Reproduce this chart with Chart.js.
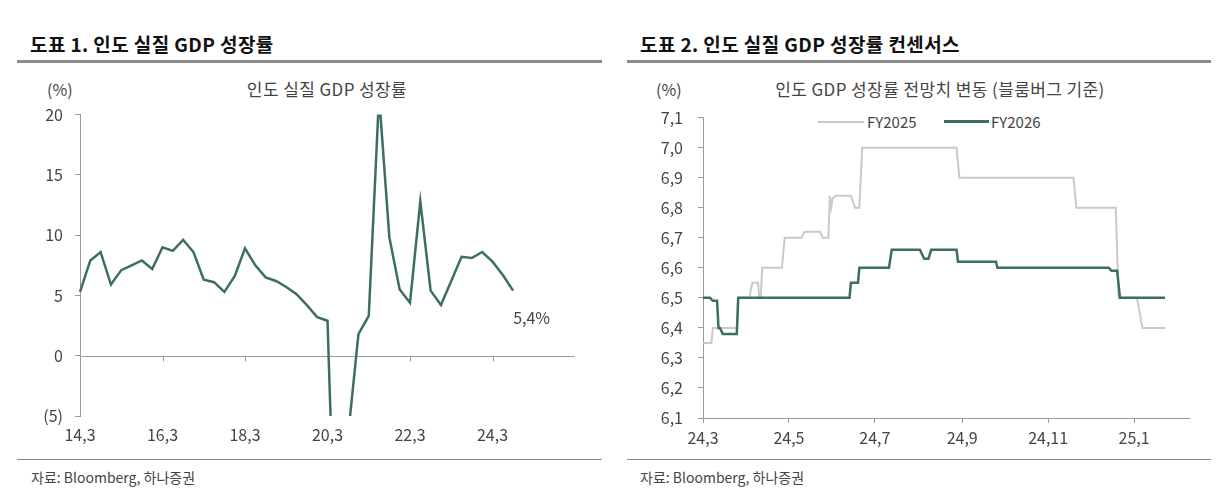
<!DOCTYPE html>
<html>
<head>
<meta charset="utf-8">
<script src="https://cdn.jsdelivr.net/npm/chart.js@4.4.1/dist/chart.umd.min.js"></script>
<style>
  html, body { margin:0; padding:0; background:#fff; }
  body { width:1226px; height:496px; position:relative; overflow:hidden; font-family:'Noto Sans CJK KR','Noto Sans',sans-serif; color:#444; }
  .abs { position:absolute; white-space:nowrap; line-height:1; }
  .hdr { font-size:19px; font-weight:bold; color:#111; letter-spacing:0.4px; }
  .sub { font-size:17px; color:#444; letter-spacing:0.4px; }
  .foot { font-size:14px; color:#444; }
  .rule { position:absolute; background:#8c8c8c; }
  canvas { position:absolute; }
</style>
</head>
<body>
<div class="abs hdr" style="left:30px; top:34px;">도표 1. 인도 실질 GDP 성장률</div>
<div class="rule" style="left:17px; top:60px; width:585px; height:3px;"></div>
<div class="abs hdr" style="left:640px; top:34px;">도표 2. 인도 실질 GDP 성장률 컨센서스</div>
<div class="rule" style="left:627px; top:60px; width:584px; height:3px;"></div>

<div class="abs sub" style="left:47px; top:81px; font-size:16px; letter-spacing:0;">(%)</div>
<div class="abs sub" style="left:177px; top:80px; width:300px; text-align:center;">인도 실질 GDP 성장률</div>
<div class="abs sub" style="left:656px; top:81px; font-size:16px; letter-spacing:0;">(%)</div>
<div class="abs sub" style="left:740px; top:80px; width:400px; text-align:center;">인도 GDP 성장률 전망치 변동 (블룸버그 기준)</div>

<div style="position:absolute; left:818px; top:121px; width:46px; height:2px; background:#c9c9c9;"></div>
<div class="abs sub" style="left:867px; top:114px; font-size:15px; letter-spacing:0;">FY2025</div>
<div style="position:absolute; left:944px; top:120px; width:45px; height:3px; background:#3d6e65;"></div>
<div class="abs sub" style="left:991px; top:114px; font-size:15px; letter-spacing:0;">FY2026</div>

<div class="rule" style="left:17px; top:459px; width:585px; height:1px; background:#888;"></div>
<div class="rule" style="left:627px; top:459px; width:584px; height:1px; background:#888;"></div>
<div class="abs foot" style="left:31px; top:470px;">자료: Bloomberg, 하나증권</div>
<div class="abs foot" style="left:640px; top:470px;">자료: Bloomberg, 하나증권</div>

<canvas id="c1" width="600" height="370" style="left:0px; top:93px;"></canvas>
<canvas id="c2" width="600" height="370" style="left:615px; top:93px;"></canvas>

<script>
// ---------- Data: chart 1 (India real GDP growth, % YoY, quarterly) ----------
const quarterLabels = ["14,3","14,6","14,9","14,12","15,3","15,6","15,9","15,12","16,3","16,6","16,9","16,12",
  "17,3","17,6","17,9","17,12","18,3","18,6","18,9","18,12","19,3","19,6","19,9","19,12",
  "20,3","20,6","20,9","20,12","21,3","21,6","21,9","21,12","22,3","22,6","22,9","22,12",
  "23,3","23,6","23,9","23,12","24,3","24,6","24,9","24,12","25,3","25,6","25,9","25,12","26,3"];
const gdpGrowth = [5.3,7.9,8.6,5.9,7.1,7.5,7.9,7.2,9.0,8.7,9.6,8.6,6.3,6.1,5.3,6.6,8.9,7.5,6.5,6.2,
  5.7,5.1,4.2,3.2,2.9,-23.9,-6.6,1.8,3.3,21.6,9.8,5.5,4.4,12.8,5.4,4.2,6.2,8.2,8.1,8.6,7.8,6.7,5.4];
const xTickLabels1 = ["14,3","16,3","18,3","20,3","22,3","24,3"];
const lastLabel = "5,4%";

// ---------- Data: chart 2 (Bloomberg consensus, days since 2024-03-01) ----------
const fy25Days = [0,6,7,24,25,33,35,39,40,41,42,56,58,70,72,83,85,89,90,91,92,94,105,108,111,113,180,182,263,265,293,295,308,312,328];
const fy25Vals = [6.35,6.35,6.40,6.40,6.50,6.50,6.55,6.55,6.50,6.50,6.60,6.60,6.70,6.70,6.72,6.72,6.70,6.70,6.84,6.80,6.83,6.84,6.84,6.80,6.80,7.00,7.00,6.90,6.90,6.80,6.80,6.50,6.50,6.40,6.40];
const fy26Days = [0,5,7,10,11,12,14,24,25,104,105,110,111,132,134,154,157,160,162,180,181,208,209,288,290,294,296,328];
const fy26Vals = [6.50,6.50,6.49,6.49,6.40,6.40,6.38,6.38,6.50,6.50,6.55,6.55,6.60,6.60,6.66,6.66,6.63,6.63,6.66,6.66,6.62,6.62,6.60,6.60,6.59,6.59,6.50,6.50];
const xTickDays2 = [0,61,122,184,245,306];
const xTickLabels2 = ["24,3","24,5","24,7","24,9","24,11","25,1"];
const yTicks2 = [6.1,6.2,6.3,6.4,6.5,6.6,6.7,6.8,6.9,7.0,7.1];
const seriesNames = ["FY2025","FY2026"];

// ---------- Styles ----------
const GREEN = '#3d6e65';
const GRAY = '#c9c9c9';
const AXIS = '#9a9a9a';
const TXT = '#444';
const FONT = "'Noto Sans CJK KR','Noto Sans',sans-serif";
Chart.defaults.font.family = FONT;
Chart.defaults.color = TXT;

const zeroAxisPlugin = {
  id: 'zeroAxis',
  beforeDatasetsDraw(chart) {
    const {ctx, chartArea, scales} = chart;
    const y0 = Math.round(scales.y.getPixelForValue(0)) + 0.5;
    ctx.save();
    ctx.strokeStyle = AXIS; ctx.lineWidth = 1;
    ctx.beginPath();
    ctx.moveTo(chartArea.left, y0); ctx.lineTo(chartArea.right, y0);
    quarterLabels.forEach((l, i) => {
      if (i > 0 && xTickLabels1.includes(l)) {
        const px = Math.round(scales.x.getPixelForValue(i)) + 0.5;
        ctx.moveTo(px, y0); ctx.lineTo(px, y0 + 5);
      }
    });
    ctx.stroke();
    ctx.restore();
  },
  afterDatasetsDraw(chart) {
    const {ctx, scales} = chart;
    const i = gdpGrowth.length - 1;
    const px = scales.x.getPixelForValue(i);
    const py = scales.y.getPixelForValue(gdpGrowth[i]);
    ctx.save();
    ctx.fillStyle = TXT;
    ctx.font = "16px " + FONT;
    ctx.textAlign = 'left'; ctx.textBaseline = 'middle';
    ctx.fillText(lastLabel, px, py + 27);
    ctx.restore();
  }
};

new Chart(document.getElementById('c1'), {
  type: 'line',
  data: {
    labels: quarterLabels,
    datasets: [{
      data: gdpGrowth,
      borderColor: GREEN, borderWidth: 2.5, pointRadius: 0, tension: 0, fill: false
    }]
  },
  options: {
    responsive: false, animation: false,
    layout: { padding: { top: 0, right: 25, left: 0, bottom: 0 } },
    plugins: { legend: { display: false }, tooltip: { enabled: false } },
    scales: {
      x: {
        type: 'category',
        grid: { display: false, drawTicks: false, tickLength: 0 },
        border: { display: false },
        ticks: {
          autoSkip: false, maxRotation: 0, padding: 9,
          font: { size: 16 }, color: TXT,
          callback: function(v, i) { const l = quarterLabels[i]; return xTickLabels1.includes(l) ? l : null; }
        },
        afterFit: s => { s.height = 47; }
      },
      y: {
        min: -5, max: 20,
        ticks: { stepSize: 5, padding: 12, font: { size: 16 }, color: TXT,
          callback: v => v < 0 ? '(' + (-v) + ')' : String(v) },
        grid: { drawOnChartArea: false, drawTicks: true, tickLength: 5, color: AXIS },
        border: { display: true, color: AXIS },
        afterFit: s => { s.width = 80; }
      }
    }
  },
  plugins: [zeroAxisPlugin]
});

const pts = (xs, ys) => xs.map((d, k) => ({ x: d, y: ys[k] }));

new Chart(document.getElementById('c2'), {
  type: 'line',
  data: {
    datasets: [
      { label: seriesNames[0], data: pts(fy25Days, fy25Vals), borderColor: GRAY, borderWidth: 2,
        pointRadius: 0, tension: 0, fill: false, order: 2 },
      { label: seriesNames[1], data: pts(fy26Days, fy26Vals), borderColor: GREEN, borderWidth: 2.5,
        pointRadius: 0, tension: 0, fill: false, order: 1 }
    ]
  },
  options: {
    responsive: false, animation: false,
    layout: { padding: { top: 0, right: 26, left: 0, bottom: 0 } },
    plugins: { legend: { display: false }, tooltip: { enabled: false } },
    scales: {
      x: {
        type: 'linear', min: 0, max: 345,
        afterBuildTicks: s => { s.ticks = xTickDays2.map(v => ({ value: v })); },
        ticks: { autoSkip: false, maxRotation: 0, padding: 5, font: { size: 16 }, color: TXT,
          callback: v => { const k = xTickDays2.indexOf(v); return k >= 0 ? xTickLabels2[k] : null; } },
        grid: { drawOnChartArea: false, drawTicks: true, tickLength: 5, color: AXIS },
        border: { display: true, color: AXIS },
        afterFit: s => { s.height = 45; }
      },
      y: {
        min: 6.1, max: 7.1,
        afterBuildTicks: s => { s.ticks = yTicks2.map(v => ({ value: v })); },
        ticks: { padding: 15, font: { size: 16 }, color: TXT,
          callback: v => v.toFixed(1).replace('.', ',') },
        grid: { drawOnChartArea: false, drawTicks: true, tickLength: 5, color: AXIS },
        border: { display: true, color: AXIS },
        afterFit: s => { s.width = 88; }
      }
    }
  }
});
</script>
</body>
</html>
